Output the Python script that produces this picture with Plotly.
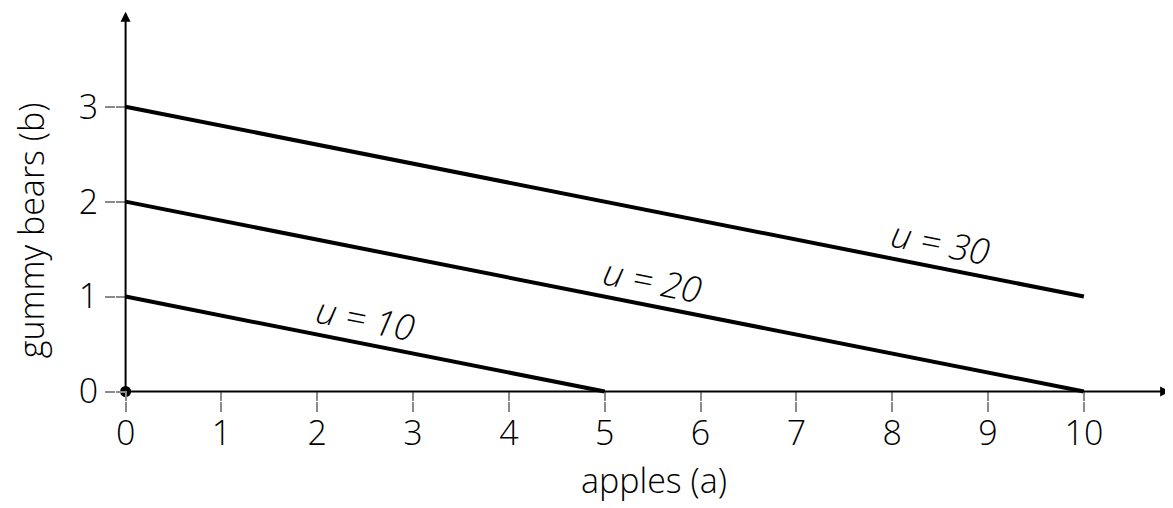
import numpy as np
import plotly.graph_objects as go

# ---- data ----
apples_u10 = [0, 5]
bears_u10 = [1, 0]
apples_u20 = [0, 10]
bears_u20 = [2, 0]
apples_u30 = [0, 10]
bears_u30 = [3, 1]
curve_names = ["u = 10", "u = 20", "u = 30"]
label_at_apples = [2.5, 5.5, 8.5]
x_ticks = [0, 1, 2, 3, 4, 5, 6, 7, 8, 9, 10]
y_ticks = [0, 1, 2, 3]
x_title = "apples (a)"
y_title = "gummy bears (b)"

FONT = "Open Sans"
FS = 34
WEIGHT = 300
TICKGRAY = "#8a8a8a"

curves = [(apples_u10, bears_u10), (apples_u20, bears_u20), (apples_u30, bears_u30)]

fig = go.Figure()
for (xs, ys), name in zip(curves, curve_names):
    fig.add_trace(go.Scatter(x=xs, y=ys, mode="lines", name=name,
                             line=dict(color="black", width=4),
                             showlegend=False, hoverinfo="skip"))

# origin dot
fig.add_trace(go.Scatter(x=[0], y=[0], mode="markers",
                         marker=dict(color="black", size=11),
                         cliponaxis=False, showlegend=False, hoverinfo="skip"))
# invisible trace to activate overlay axes
fig.add_trace(go.Scatter(x=[0], y=[0], xaxis="x2", yaxis="y2", mode="markers",
                         marker=dict(opacity=0), showlegend=False, hoverinfo="skip"))

# the page body has an 8px margin, so the figure is sized to fit inside the window
x_range = [-0.1, 10.93]
y_range = [-0.1, 4.04]
W, H = 1165, 500
L, R, T, B = 108.4, 0, 0, 106.5

tick_font = dict(family=FONT, size=FS, weight=WEIGHT)

fig.update_layout(
    width=W, height=H,
    margin=dict(l=L, r=R, t=T, b=B, pad=0, autoexpand=False),
    paper_bgcolor="white", plot_bgcolor="white",
    font=dict(family=FONT, size=FS, color="black", weight=WEIGHT),
    xaxis=dict(range=x_range, tickvals=x_ticks, ticks="outside", ticklen=10,
               tickwidth=1.6, tickcolor=TICKGRAY, showgrid=False, zeroline=False,
               showline=False, ticklabelstandoff=-8, automargin=False,
               tickfont=tick_font),
    yaxis=dict(range=y_range, tickvals=y_ticks, ticks="outside", ticklen=10,
               tickwidth=1.6, tickcolor=TICKGRAY, showgrid=False, zeroline=False,
               showline=False, ticklabelstandoff=0, automargin=False,
               tickfont=tick_font),
    xaxis2=dict(range=x_range, tickvals=x_ticks, ticks="inside", ticklen=10,
                tickwidth=1.6, tickcolor=TICKGRAY, showticklabels=False,
                showgrid=False, zeroline=False, showline=False, automargin=False,
                overlaying="x", anchor="y2"),
    yaxis2=dict(range=y_range, tickvals=y_ticks, ticks="inside", ticklen=10,
                tickwidth=1.6, tickcolor=TICKGRAY, showticklabels=False,
                showgrid=False, zeroline=False, showline=False, automargin=False,
                overlaying="y", anchor="x2"),
)

# axis lines with arrows
fig.add_annotation(x=10.9, y=0, ax=0, ay=0, xref="x", yref="y", axref="x", ayref="y",
                   text="", showarrow=True, arrowhead=2, arrowsize=1, arrowwidth=2,
                   arrowcolor="black", standoff=0, startstandoff=0)
fig.add_annotation(x=0, y=4.0, ax=0, ay=0, xref="x", yref="y", axref="x", ayref="y",
                   text="", showarrow=True, arrowhead=2, arrowsize=1, arrowwidth=2,
                   arrowcolor="black", standoff=0, startstandoff=0)

# curve labels, sloped along the lines
pw, ph = W - L - R, H - T - B
px_x = pw / (x_range[1] - x_range[0])
px_y = ph / (y_range[1] - y_range[0])
for (xs, ys), name, xa in zip(curves, curve_names, label_at_apples):
    ya = float(np.interp(xa, xs, ys))
    slope_px = (ys[0] - ys[-1]) / (xs[-1] - xs[0]) * px_y / px_x
    ang = float(np.degrees(np.arctan(slope_px)))
    fig.add_annotation(x=xa, y=ya, xref="x", yref="y", text="<i>" + name + "</i>",
                       showarrow=False, textangle=ang, yshift=26, xshift=0,
                       font=dict(family=FONT, size=36, weight=WEIGHT))

# axis titles (paper coordinates; page pixel positions minus the 8px body margin)
def to_paper(px, py):
    return (px - 8 - L) / pw, (H - B - (py - 8)) / ph

tx, ty = to_paper(654, 481)
fig.add_annotation(x=tx, y=ty, xref="paper", yref="paper", text=x_title, showarrow=False,
                   font=tick_font, xanchor="center", yanchor="middle")
tx, ty = to_paper(31, 231)
fig.add_annotation(x=tx, y=ty, xref="paper", yref="paper", text=y_title, showarrow=False,
                   textangle=-90, font=tick_font,
                   xanchor="center", yanchor="middle")

fig.write_html("out.html")
